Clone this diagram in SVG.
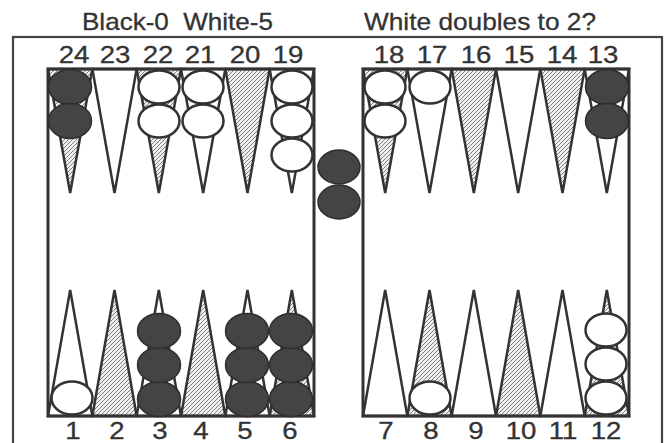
<svg xmlns="http://www.w3.org/2000/svg" width="672" height="443" viewBox="0 0 672 443">
<defs>
<pattern id="hatch" width="4" height="4" patternUnits="userSpaceOnUse">
<rect width="4" height="4" fill="#f0f0f0"/>
<path d="M-1,1 L1,-1 M0,4 L4,0 M3,5 L5,3" stroke="#808080" stroke-width="1"/>
</pattern>
</defs>
<style>
.frame{fill:none;stroke:#444;stroke-width:2.2}
.board{fill:none;stroke:#333;stroke-width:3}
.pt{stroke:#333;stroke-width:2.5;stroke-linejoin:miter}
.w{fill:#fff}
.h{fill:url(#hatch)}
.bk{fill:#444;stroke:#2e2e2e;stroke-width:1.5}
.wh{fill:#fff;stroke:#333;stroke-width:2.5}
.num{font-family:"Liberation Sans",Arial,sans-serif;font-size:23px;fill:#333;stroke:#333;stroke-width:0.3;text-anchor:middle}
.title{font-family:"Liberation Sans",Arial,sans-serif;font-size:24px;fill:#333;stroke:#333;stroke-width:0.3}
</style>
<rect width="672" height="443" fill="#fff"/>
<g id="titles">
<text class="title" x="82" y="30" textLength="191" lengthAdjust="spacingAndGlyphs" xml:space="preserve">Black-0  White-5</text>
<text class="title" x="364" y="30" textLength="232" lengthAdjust="spacingAndGlyphs">White doubles to 2?</text>
</g>
<rect id="frame" class="frame" x="13" y="37" width="649" height="420"/>
<g id="points">
<polygon class="pt h" points="48,69 92.33,69 70.17,193"/>
<polygon class="pt w" points="92.33,69 136.67,69 114.5,193"/>
<polygon class="pt h" points="136.67,69 181,69 158.83,193"/>
<polygon class="pt w" points="181,69 225.33,69 203.17,193"/>
<polygon class="pt h" points="225.33,69 269.67,69 247.5,193"/>
<polygon class="pt w" points="269.67,69 314,69 291.83,193"/>
<polygon class="pt h" points="363,69 407.33,69 385.17,193"/>
<polygon class="pt w" points="407.33,69 451.67,69 429.5,193"/>
<polygon class="pt h" points="451.67,69 496,69 473.83,193"/>
<polygon class="pt w" points="496,69 540.33,69 518.17,193"/>
<polygon class="pt h" points="540.33,69 584.67,69 562.5,193"/>
<polygon class="pt w" points="584.67,69 629,69 606.83,193"/>
<polygon class="pt w" points="48,416 92.33,416 70.17,290"/>
<polygon class="pt h" points="92.33,416 136.67,416 114.5,290"/>
<polygon class="pt w" points="136.67,416 181,416 158.83,290"/>
<polygon class="pt h" points="181,416 225.33,416 203.17,290"/>
<polygon class="pt w" points="225.33,416 269.67,416 247.5,290"/>
<polygon class="pt h" points="269.67,416 314,416 291.83,290"/>
<polygon class="pt w" points="363,416 407.33,416 385.17,290"/>
<polygon class="pt h" points="407.33,416 451.67,416 429.5,290"/>
<polygon class="pt w" points="451.67,416 496,416 473.83,290"/>
<polygon class="pt h" points="496,416 540.33,416 518.17,290"/>
<polygon class="pt w" points="540.33,416 584.67,416 562.5,290"/>
<polygon class="pt h" points="584.67,416 629,416 606.83,290"/>
</g>
<rect id="board-left" class="board" x="48" y="69" width="266" height="347"/>
<rect id="board-right" class="board" x="363" y="69" width="266" height="347"/>
<g id="checkers">
<ellipse class="bk" cx="70" cy="87" rx="21.5" ry="17.5"/>
<ellipse class="bk" cx="70" cy="121" rx="21.5" ry="17.5"/>
<ellipse class="wh" cx="159" cy="87" rx="20.5" ry="16.5"/>
<ellipse class="wh" cx="159" cy="121" rx="20.5" ry="16.5"/>
<ellipse class="wh" cx="203" cy="87" rx="20.5" ry="16.5"/>
<ellipse class="wh" cx="203" cy="121" rx="20.5" ry="16.5"/>
<ellipse class="wh" cx="292" cy="87" rx="20.5" ry="16.5"/>
<ellipse class="wh" cx="292" cy="121" rx="20.5" ry="16.5"/>
<ellipse class="wh" cx="292" cy="155" rx="20.5" ry="16.5"/>
<ellipse class="wh" cx="385" cy="87" rx="20.5" ry="16.5"/>
<ellipse class="wh" cx="385" cy="121" rx="20.5" ry="16.5"/>
<ellipse class="wh" cx="430" cy="87" rx="20.5" ry="16.5"/>
<ellipse class="bk" cx="607" cy="87" rx="21.5" ry="17.5"/>
<ellipse class="bk" cx="607" cy="121" rx="21.5" ry="17.5"/>
<ellipse class="bk" cx="339" cy="167" rx="21" ry="17"/>
<ellipse class="bk" cx="339" cy="202" rx="21" ry="17"/>
<ellipse class="wh" cx="72" cy="398" rx="20.5" ry="16.5"/>
<ellipse class="bk" cx="159" cy="399" rx="21.5" ry="17.5"/>
<ellipse class="bk" cx="159" cy="365" rx="21.5" ry="17.5"/>
<ellipse class="bk" cx="159" cy="331" rx="21.5" ry="17.5"/>
<ellipse class="bk" cx="247" cy="399" rx="21.5" ry="17.5"/>
<ellipse class="bk" cx="247" cy="365" rx="21.5" ry="17.5"/>
<ellipse class="bk" cx="247" cy="331" rx="21.5" ry="17.5"/>
<ellipse class="bk" cx="291" cy="399" rx="21.5" ry="17.5"/>
<ellipse class="bk" cx="291" cy="365" rx="21.5" ry="17.5"/>
<ellipse class="bk" cx="291" cy="331" rx="21.5" ry="17.5"/>
<ellipse class="wh" cx="430" cy="398" rx="20.5" ry="16.5"/>
<ellipse class="wh" cx="606" cy="398" rx="20.5" ry="16.5"/>
<ellipse class="wh" cx="606" cy="364" rx="20.5" ry="16.5"/>
<ellipse class="wh" cx="606" cy="330" rx="20.5" ry="16.5"/>
</g>
<g id="labels">
<text class="num" transform="translate(74,63) scale(1.2,1)">24</text>
<text class="num" transform="translate(115,63) scale(1.2,1)">23</text>
<text class="num" transform="translate(158,63) scale(1.2,1)">22</text>
<text class="num" transform="translate(200,63) scale(1.2,1)">21</text>
<text class="num" transform="translate(245,63) scale(1.2,1)">20</text>
<text class="num" transform="translate(288,63) scale(1.2,1)">19</text>
<text class="num" transform="translate(389,63) scale(1.2,1)">18</text>
<text class="num" transform="translate(432,63) scale(1.2,1)">17</text>
<text class="num" transform="translate(476,63) scale(1.2,1)">16</text>
<text class="num" transform="translate(519,63) scale(1.2,1)">15</text>
<text class="num" transform="translate(562,63) scale(1.2,1)">14</text>
<text class="num" transform="translate(603,63) scale(1.2,1)">13</text>
<text class="num" transform="translate(73,439) scale(1.2,1)">1</text>
<text class="num" transform="translate(117,439) scale(1.2,1)">2</text>
<text class="num" transform="translate(160,439) scale(1.2,1)">3</text>
<text class="num" transform="translate(201,439) scale(1.2,1)">4</text>
<text class="num" transform="translate(245,439) scale(1.2,1)">5</text>
<text class="num" transform="translate(290,439) scale(1.2,1)">6</text>
<text class="num" transform="translate(386,439) scale(1.2,1)">7</text>
<text class="num" transform="translate(431,439) scale(1.2,1)">8</text>
<text class="num" transform="translate(476,439) scale(1.2,1)">9</text>
<text class="num" transform="translate(521,439) scale(1.2,1)">10</text>
<text class="num" transform="translate(563,439) scale(1.2,1)">11</text>
<text class="num" transform="translate(606,439) scale(1.2,1)">12</text>
</g>
</svg>
